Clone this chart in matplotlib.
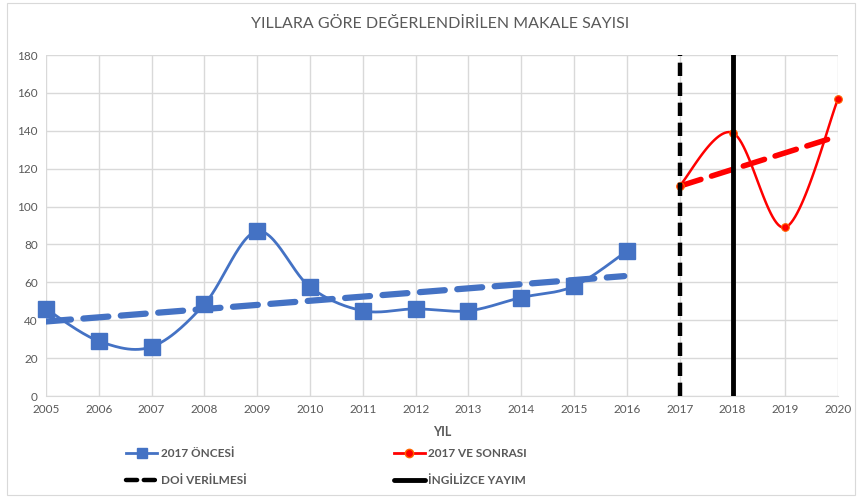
import numpy as np
import matplotlib.pyplot as plt
from matplotlib.lines import Line2D
from matplotlib.patches import Rectangle

plt.rcParams['font.family'] = ['Lato', 'DejaVu Sans']

years_before = [2005, 2006, 2007, 2008, 2009, 2010, 2011, 2012, 2013, 2014, 2015, 2016]
values_before = [46, 29, 26, 48.5, 87, 57.5, 45, 46, 45, 52, 58, 76.5]
years_after = [2017, 2018, 2019, 2020]
values_after = [111, 139, 89, 157]
doi_year = 2017
english_year = 2018

BLUE = '#4472C4'
RED = '#FF0000'
GRAY = '#595959'


# excel-like smoothed line (catmull-rom through the points)
def smooth(xs, ys, n=30):
    p = np.column_stack([xs, ys]).astype(float)
    p = np.vstack([p[0], p, p[-1]])
    out = []
    for i in range(1, len(p) - 2):
        p0, p1, p2, p3 = p[i - 1], p[i], p[i + 1], p[i + 2]
        t = np.linspace(0, 1, n)[:, None]
        seg = 0.5 * ((2 * p1) + (-p0 + p2) * t + (2 * p0 - 5 * p1 + 4 * p2 - p3) * t ** 2
                     + (-p0 + 3 * p1 - 3 * p2 + p3) * t ** 3)
        out.append(seg)
    out = np.vstack(out)
    return out[:, 0], out[:, 1]


fig = plt.figure(figsize=(8.57, 4.97), dpi=100)
ax = fig.add_axes([0.0537, 0.2032, 0.9243, 0.6861])
fig.patches.append(Rectangle((0.008, 0.004), 0.99, 0.99, transform=fig.transFigure,
                             fill=False, edgecolor='#D9D9D9', lw=0.8))

# trend lines (red one stops a bit short of the last year, as in excel)
for xs, ys, col, lw, cut in [(years_before, values_before, BLUE, 4.5, 0.05),
                             (years_after, values_after, RED, 4, 0.2)]:
    k, b = np.polyfit(xs, ys, 1)
    tx = np.array([xs[0], xs[-1] - cut])
    ax.plot(tx, k * tx + b, color=col, lw=lw, dashes=(4, 2), solid_capstyle='round',
            dash_capstyle='round', zorder=3)

sx, sy = smooth(years_before, values_before)
ax.plot(sx, sy, color=BLUE, lw=2, zorder=4)
ax.plot(years_before, values_before, ls='none', marker='s', ms=11, color=BLUE, zorder=5,
        clip_on=False)

sx, sy = smooth(years_after, values_after)
ax.plot(sx, sy, color=RED, lw=1.8, zorder=4)
ax.plot(years_after, values_after, ls='none', marker='o', ms=5.5, color=RED,
        mec='#FF6600', mew=0.8, zorder=5, clip_on=False)

ax.axvline(doi_year, color='black', lw=3.2, dashes=(3, 1.5), zorder=6)
ax.axvline(english_year, color='black', lw=3.5, zorder=6)

ax.set_xlim(2005, 2020)
ax.set_ylim(0, 180)
ax.set_xticks(range(2005, 2021))
ax.set_yticks(range(0, 181, 20))
ax.grid(True, color='#D9D9D9', lw=1)
ax.set_axisbelow(True)
ax.tick_params(length=0, labelsize=8.5, labelcolor=GRAY, pad=6)
for s in ['top', 'right', 'left']:
    ax.spines[s].set_visible(False)
ax.spines['bottom'].set_color('#D9D9D9')

ax.set_xlabel('YIL', fontsize=9, fontweight='bold', color=GRAY, labelpad=8)
fig.text(0.513, 0.952, 'YILLARA GÖRE DEĞERLENDİRİLEN MAKALE SAYISI', ha='center', va='center',
         fontsize=11.5, color=GRAY)

handles = [
    Line2D([], [], color=BLUE, lw=2, marker='s', ms=7),
    Line2D([], [], color='black', lw=3.2, dashes=(2.5, 1.5), dash_capstyle='round'),
    Line2D([], [], color=RED, lw=2, marker='o', ms=6, mec='#FF6600'),
    Line2D([], [], color='black', lw=3.5, solid_capstyle='round'),
]
labels = ['2017 ÖNCESİ', 'DOİ VERİLMESİ', '2017 VE SONRASI', 'İNGİLİZCE YAYIM']
leg = fig.legend(handles, labels, ncol=2, loc='center left', bbox_to_anchor=(0.135, 0.06),
                 frameon=False, handlelength=2.6, handletextpad=0.3, columnspacing=12.5,
                 labelspacing=1.35, prop={'size': 8.5, 'weight': 'bold'})
for t in leg.get_texts():
    t.set_color(GRAY)

fig.savefig('out.png', dpi=100)
